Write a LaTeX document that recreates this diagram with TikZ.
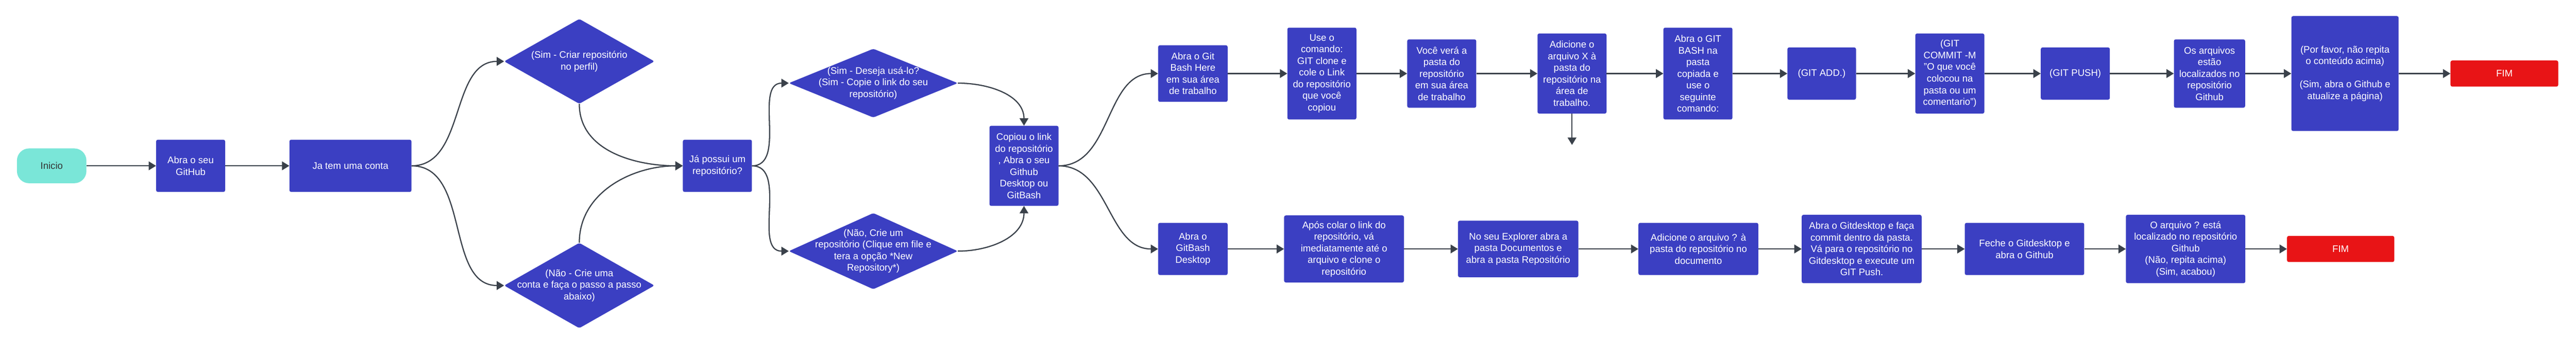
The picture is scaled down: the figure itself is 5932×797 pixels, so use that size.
\documentclass[tikz,border=0pt]{standalone}
\usepackage{fontspec}
\setmainfont{Liberation Sans}
\usepackage{tikz}
\usetikzlibrary{arrows.meta}
\usetikzlibrary{shapes.geometric}
\definecolor{boxblue}{HTML}{3B3FC2}
\definecolor{startteal}{HTML}{7AE6D8}
\definecolor{endred}{HTML}{E81416}
\definecolor{linkgray}{HTML}{3A414A}

\begin{document}
\begin{tikzpicture}[x=1pt, y=-1pt,
  stepbox/.style={rectangle, rounded corners=4pt, fill=boxblue, draw=none, text=white, inner sep=0pt, align=center, font=\fontsize{22}{26.7}\selectfont},
  startbox/.style={stepbox, fill=startteal, text=black!80, rounded corners=28pt},
  endbox/.style={stepbox, fill=endred},
  choice/.style={diamond, rounded corners=4pt, fill=boxblue, draw=none, inner sep=0pt},
  choicetext/.style={text=white, inner sep=0pt, align=center, font=\fontsize{22}{26.7}\selectfont},
  link/.style={draw=linkgray, line width=2.7pt, -{Triangle[length=17pt,width=20pt]}}]

\useasboundingbox (0,0) rectangle (5932,797);
\fill[white] (0,0) rectangle (5932,797);

%%% Start and account
\node[startbox, minimum width=160pt, minimum height=80pt] (Inicio) at (119,381) {Inicio};
\node[stepbox, minimum width=159pt, minimum height=120pt] (AbraGitHub) at (439,381) {Abra o seu\\GitHub};
\node[stepbox, minimum width=281pt, minimum height=120pt] (JaTemConta) at (807,381) {Ja tem uma conta};

%%% Account choices
\node[choice, minimum width=346pt, minimum height=195pt] (CriarRepo) at (1334,141) {};
\node[choicetext] (CriarRepoText) at (CriarRepo) {(Sim - Criar repositório\\no perfil)};
\node[choice, minimum width=346pt, minimum height=196pt] (CrieConta) at (1334,656) {};
\node[choicetext] (CrieContaText) at (CrieConta) {(Não - Crie uma\\conta e faça o passo a passo\\abaixo)};

\node[stepbox, minimum width=159pt, minimum height=120pt] (JaPossui) at (1652,381) {Já possui um\\repositório?};

%%% Repository choices
\node[choice, minimum width=389pt, minimum height=158pt] (DesejaUsar) at (2011,191) {};
\node[choicetext] (DesejaUsarText) at (DesejaUsar) {(Sim - Deseja usá-lo?\\(Sim - Copie o link do seu\\repositório)};
\node[choice, minimum width=389pt, minimum height=175pt] (CrieRepo) at (2011,577) {};
\node[choicetext] (CrieRepoText) at (CrieRepo) {(Não, Crie  um\\repositório (Clique em file e\\tera a opção *New\\Repository*)};

\node[stepbox, minimum width=159pt, minimum height=184pt] (CopiouLink) at (2358,381) {Copiou o link\\do repositório\\, Abra o seu\\Github\\Desktop ou\\GitBash};

%%% Upper row: GitBash
\node[stepbox, minimum width=160pt, minimum height=130pt] (GitBashHere) at (2747,169) {Abra o Git\\Bash Here\\em sua área\\de trabalho};
\node[stepbox, minimum width=159pt, minimum height=211pt] (UseComando) at (3044,169) {Use o\\comando:\\GIT clone e\\cole o Link\\do repositório\\que você\\copiou};
\node[stepbox, minimum width=159pt, minimum height=157pt] (VoceVera) at (3320,169) {Você verá a\\pasta do\\repositório\\em sua área\\de trabalho};
\node[stepbox, minimum width=159pt, minimum height=184pt] (AdicioneX) at (3620,169) {Adicione o\\arquivo X à\\pasta do\\repositório na\\área de\\trabalho.};
\coordinate (AdicioneXEnd) at (3620,333);
\node[stepbox, minimum width=159pt, minimum height=211pt] (GitBashNa) at (3910,169) {Abra o GIT\\BASH na\\pasta\\copiada e\\use o\\seguinte\\comando:};
\node[stepbox, minimum width=158pt, minimum height=120pt] (GitAdd) at (4195,169) {(GIT ADD.)};
\node[stepbox, minimum width=159pt, minimum height=184pt] (GitCommit) at (4490,169) {(GIT\\COMMIT -M\\"O que você\\colocou na\\pasta ou um\\comentario")};
\node[stepbox, minimum width=159pt, minimum height=120pt] (GitPush) at (4779,169) {(GIT PUSH)};
\node[stepbox, minimum width=164pt, minimum height=157pt] (OsArquivos) at (5088,169) {Os arquivos\\estão\\localizados no\\repositório\\Github};
\node[stepbox, minimum width=247pt, minimum height=264pt] (PorFavor) at (5400,169) {(Por favor, não repita\\o conteúdo acima)\\[26.7pt](Sim, abra o Github e\\atualize a página)};
\node[endbox, minimum width=248pt, minimum height=60pt] (FimTopo) at (5767,169) {FIM};

%%% Lower row: GitHub Desktop
\node[stepbox, minimum width=160pt, minimum height=120pt] (GitBashDesktop) at (2747,572) {Abra o\\GitBash\\Desktop};
\node[stepbox, minimum width=276pt, minimum height=154pt] (AposColar) at (3095,572) {Após colar o link do\\repositório, vá\\imediatamente até o\\arquivo e clone o\\repositório};
\node[stepbox, minimum width=277pt, minimum height=130pt] (Explorer) at (3496,572) {No seu Explorer abra a\\pasta Documentos e\\abra a pasta Repositório};
\node[stepbox, minimum width=276pt, minimum height=120pt] (AdicioneQ) at (3911,572) {Adicione o arquivo ? à\\pasta do repositório no\\documento};
\node[stepbox, minimum width=276pt, minimum height=157pt] (GitDesktop) at (4287,572) {Abra o Gitdesktop e faça\\commit dentro da pasta.\\Vá para o repositório no\\Gitdesktop e execute um\\GIT Push.};
\node[stepbox, minimum width=275pt, minimum height=120pt] (FecheDesktop) at (4662,572) {Feche o Gitdesktop e\\abra o Github};
\node[stepbox, minimum width=275pt, minimum height=157pt] (ArquivoEsta) at (5033,572) {O arquivo ? está\\localizado no repositório\\Github\\(Não, repita acima)\\(Sim, acabou)};
\node[endbox, minimum width=247pt, minimum height=60pt] (FimBase) at (5390,572) {FIM};

%%% Connectors
\draw[link] (Inicio) -- (AbraGitHub);
\draw[link] (AbraGitHub) -- (JaTemConta);
\draw[link] (JaTemConta.east) to[out=0,in=180] (CriarRepo.west);
\draw[link] (JaTemConta.east) to[out=0,in=180] (CrieConta.west);
\draw[link] (CriarRepo.south) to[out=-90,in=180] (JaPossui.west);
\draw[link] (CrieConta.north) to[out=90,in=180] (JaPossui.west);
\draw[link] (JaPossui.east) to[out=0,in=180] (DesejaUsar.west);
\draw[link] (JaPossui.east) to[out=0,in=180] (CrieRepo.west);
\draw[link] (DesejaUsar.east) to[out=0,in=90] (CopiouLink.north);
\draw[link] (CrieRepo.east) to[out=0,in=-90] (CopiouLink.south);
\draw[link] (CopiouLink.east) to[out=0,in=180] (GitBashHere.west);
\draw[link] (CopiouLink.east) to[out=0,in=180] (GitBashDesktop.west);

%% upper row
\draw[link] (GitBashHere) -- (UseComando);
\draw[link] (UseComando) -- (VoceVera);
\draw[link] (VoceVera) -- (AdicioneX);
\draw[link] (AdicioneX.south) -- (AdicioneXEnd);
\draw[link] (AdicioneX) -- (GitBashNa);
\draw[link] (GitBashNa) -- (GitAdd);
\draw[link] (GitAdd) -- (GitCommit);
\draw[link] (GitCommit) -- (GitPush);
\draw[link] (GitPush) -- (OsArquivos);
\draw[link] (OsArquivos) -- (PorFavor);
\draw[link] (PorFavor) -- (FimTopo);

%% lower row
\draw[link] (GitBashDesktop) -- (AposColar);
\draw[link] (AposColar) -- (Explorer);
\draw[link] (Explorer) -- (AdicioneQ);
\draw[link] (AdicioneQ) -- (GitDesktop);
\draw[link] (GitDesktop) -- (FecheDesktop);
\draw[link] (FecheDesktop) -- (ArquivoEsta);
\draw[link] (ArquivoEsta) -- (FimBase);

\end{tikzpicture}
\end{document}
